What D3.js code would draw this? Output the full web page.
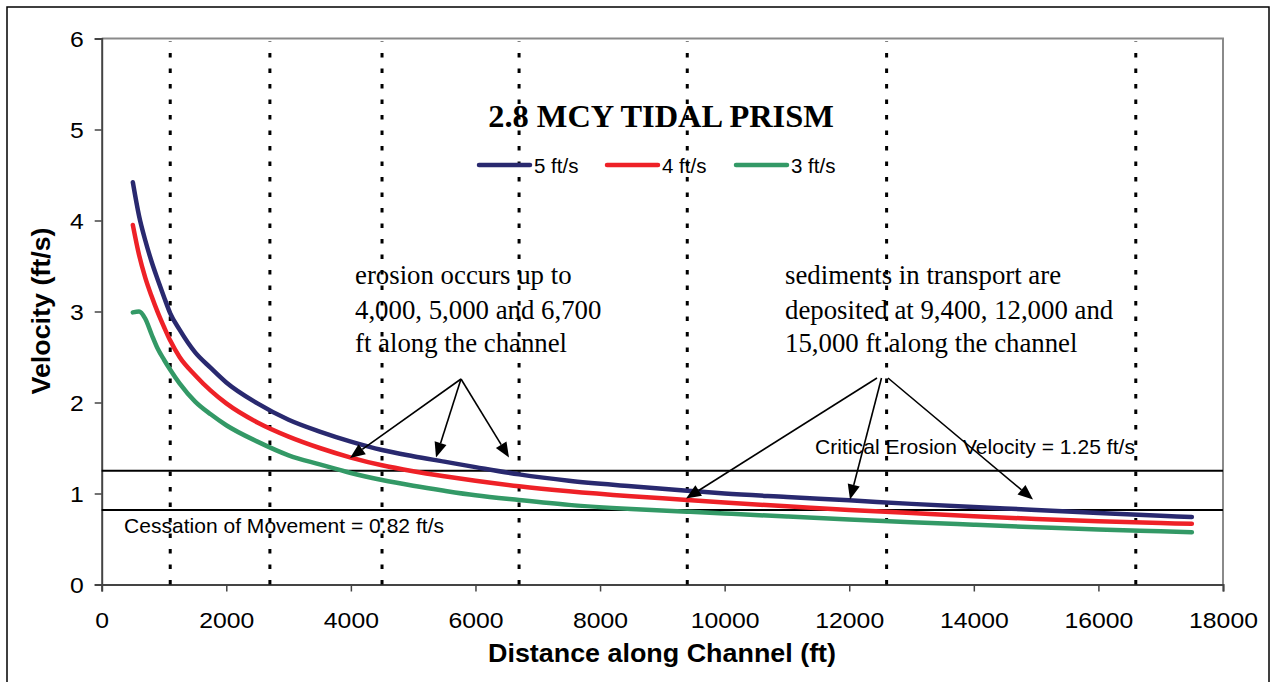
<!DOCTYPE html>
<html>
<head>
<meta charset="utf-8">
<script src="https://cdn.jsdelivr.net/npm/d3@7"></script>
<style>
  html, body { margin: 0; padding: 0; background: #fff; }
  svg { display: block; }
</style>
</head>
<body>
<svg id="chart" width="1272" height="682"></svg>
<script>
// ---- data ----
const distance = [500, 600, 700, 800, 900, 1000, 1100, 1250, 1500, 1750, 2000, 2500, 3000, 3500, 4000, 4500, 5000, 5500, 6000, 6700, 7500, 8500, 9400, 10000, 11000, 12000, 13000, 14000, 15000, 16000, 17000, 17500];
const v5 = [4.42, 4.05, 3.78, 3.55, 3.35, 3.16, 2.98, 2.80, 2.55, 2.38, 2.22, 1.99, 1.81, 1.68, 1.57, 1.478, 1.41, 1.35, 1.29, 1.21, 1.14, 1.08, 1.031, 1.00, 0.962, 0.925, 0.886, 0.851, 0.82, 0.785, 0.755, 0.742];
const v4 = [3.95, 3.62, 3.37, 3.17, 2.99, 2.83, 2.68, 2.50, 2.30, 2.13, 1.99, 1.78, 1.625, 1.50, 1.395, 1.31, 1.245, 1.19, 1.14, 1.08, 1.025, 0.97, 0.929, 0.90, 0.86, 0.82, 0.785, 0.75, 0.72, 0.695, 0.675, 0.668];
const v3 = [2.99, 3.00, 2.92, 2.75, 2.59, 2.47, 2.36, 2.21, 2.01, 1.87, 1.75, 1.57, 1.42, 1.32, 1.225, 1.148, 1.085, 1.03, 0.98, 0.928, 0.875, 0.83, 0.80, 0.78, 0.747, 0.715, 0.685, 0.657, 0.63, 0.605, 0.585, 0.575];
const seriesNames = ["5 ft/s", "4 ft/s", "3 ft/s"];
const seriesColors = ["#29296f", "#ee2127", "#339966"];
const xTicks = [0, 2000, 4000, 6000, 8000, 10000, 12000, 14000, 16000, 18000];
const yTicks = [0, 1, 2, 3, 4, 5, 6];
const markerX = [1100, 2700, 4500, 6700, 9400, 12600, 16600];
const criticalVelocity = 1.25;
const cessationVelocity = 0.82;

// ---- layout ----
const svg = d3.select("#chart");
const L = 101.7, R = 1223, T = 38.5, B = 584.5;
const x = d3.scaleLinear().domain([0, 18000]).range([L, R]);
const y = d3.scaleLinear().domain([0, 6]).range([B, T]);
const sans = "Liberation Sans, Arial, sans-serif";
const serif = "Liberation Serif, Times New Roman, serif";

function stretch(sel, k) {
  sel.each(function () {
    const l = this.getComputedTextLength();
    d3.select(this).attr("textLength", l * k).attr("lengthAdjust", "spacingAndGlyphs");
  });
}

// outer frame
svg.append("rect").attr("x", 7).attr("y", 7).attr("width", 1262).attr("height", 700)
  .attr("fill", "none").attr("stroke", "#000").attr("stroke-width", 1.5);

// plot border (top/right gray)
svg.append("path").attr("d", `M${L},${T}H${R}V${B}`)
  .attr("fill", "none").attr("stroke", "#8a8a8a").attr("stroke-width", 2);

// axes
const xAxis = d3.axisBottom(x).tickValues(xTicks).tickSize(7).tickFormat(d3.format("d"));
const gx = svg.append("g").attr("transform", `translate(0,${B})`).call(xAxis);
gx.select(".domain").attr("stroke", "#444").attr("stroke-width", 2);
gx.selectAll(".tick line").attr("stroke", "#444").attr("stroke-width", 1.5);
gx.selectAll(".tick text").attr("font-family", sans)
  .attr("font-size", 22.5).attr("fill", "#000").attr("dy", "0").attr("y", 43);
stretch(gx.selectAll(".tick text"), 1.1);

const yAxis = d3.axisLeft(y).tickValues(yTicks).tickSize(7).tickFormat(d3.format("d"));
const gy = svg.append("g").attr("transform", `translate(${L},0)`).call(yAxis);
gy.select(".domain").attr("stroke", "#444").attr("stroke-width", 2);
gy.selectAll(".tick line").attr("stroke", "#444").attr("stroke-width", 1.5);
gy.selectAll(".tick text").attr("font-family", sans)
  .attr("font-size", 22.5).attr("fill", "#000").attr("x", -18).attr("dy", "0.36em");
stretch(gy.selectAll(".tick text"), 1.1);

// dotted vertical markers
svg.append("g").selectAll("line").data(markerX).join("line")
  .attr("x1", d => x(d)).attr("x2", d => x(d))
  .attr("y1", B).attr("y2", T + 3)
  .attr("stroke", "#000").attr("stroke-width", 3).attr("stroke-dasharray", "4.5,11");

// horizontal threshold lines
[criticalVelocity, cessationVelocity].forEach(v => {
  svg.append("line").attr("x1", L).attr("x2", R).attr("y1", y(v)).attr("y2", y(v))
    .attr("stroke", "#000").attr("stroke-width", 2);
});

// series
const line = d3.line().x((d, i) => x(distance[i])).y(d => y(d)).curve(d3.curveMonotoneX);
[v5, v4, v3].forEach((vals, k) => {
  svg.append("path").datum(vals).attr("d", line)
    .attr("fill", "none").attr("stroke", seriesColors[k]).attr("stroke-width", 4.5)
    .attr("stroke-linecap", "round").attr("stroke-linejoin", "round");
});

// title
svg.append("text").attr("x", 661).attr("y", 127).attr("text-anchor", "middle")
  .attr("font-family", serif).attr("font-weight", "bold")
  .attr("font-size", 32.4).text("2.8 MCY TIDAL PRISM");

// legend
const legX = [479, 607, 736];
seriesNames.forEach((n, k) => {
  svg.append("line").attr("x1", legX[k]).attr("x2", legX[k] + 51).attr("y1", 165).attr("y2", 165)
    .attr("stroke", seriesColors[k]).attr("stroke-width", 4.5).attr("stroke-linecap", "round");
  svg.append("text").attr("x", legX[k] + 55).attr("y", 173)
    .attr("font-family", sans).attr("font-size", 20.5).text(n);
});

// annotation texts
const leftLines = ["erosion occurs up to", "4,000, 5,000 and 6,700", "ft along the channel"];
const rightLines = ["sediments in transport are", "deposited at 9,400, 12,000 and", "15,000 ft along the channel"];
const baseYs = [283.5, 318.5, 352];
leftLines.forEach((t, i) => svg.append("text").attr("x", 355).attr("y", baseYs[i])
  .attr("font-family", serif).attr("font-size", 26.8).text(t));
rightLines.forEach((t, i) => svg.append("text").attr("x", 785).attr("y", baseYs[i])
  .attr("font-family", serif).attr("font-size", 26.8).text(t));

svg.append("text").attr("x", 815).attr("y", 454)
  .attr("font-family", sans).attr("font-size", 21)
  .attr("textLength", 320).text("Critical Erosion Velocity = 1.25 ft/s");
svg.append("text").attr("x", 124).attr("y", 533)
  .attr("font-family", sans).attr("font-size", 21)
  .attr("textLength", 320).text("Cessation of Movement = 0.82 ft/s");

// arrows (line + filled triangular head)
function arrow(x0, y0, x1, y1) {
  const dx = x1 - x0, dy = y1 - y0, len = Math.hypot(dx, dy);
  const ux = dx / len, uy = dy / len, nx = -uy, ny = ux;
  const hl = 15, hw = 6.2;
  const bx = x1 - ux * hl, by = y1 - uy * hl;
  svg.append("line").attr("x1", x0).attr("y1", y0).attr("x2", bx).attr("y2", by)
    .attr("stroke", "#000").attr("stroke-width", 1.6);
  svg.append("path")
    .attr("d", `M${x1},${y1}L${bx + nx * hw},${by + ny * hw}L${bx - nx * hw},${by - ny * hw}Z`)
    .attr("fill", "#000");
}
const leftOrigin = [461, 379];
const leftTips = [[350, 458], [436, 457.5], [509, 457.5]];
leftTips.forEach(t => arrow(leftOrigin[0], leftOrigin[1], t[0], t[1]));
const rightOrigins = [[877, 378], [881.5, 378], [888, 378]];
const rightTips = [[686, 498.5], [850, 499.5], [1033, 499.5]];
rightTips.forEach((t, i) => arrow(rightOrigins[i][0], rightOrigins[i][1], t[0], t[1]));

// axis titles
svg.append("text").attr("x", 662).attr("y", 662).attr("text-anchor", "middle")
  .attr("font-family", sans).attr("font-weight", "bold")
  .attr("font-size", 25).attr("textLength", 348).attr("lengthAdjust", "spacingAndGlyphs")
  .text("Distance along Channel (ft)");
svg.append("text").attr("transform", "translate(50,311) rotate(-90)").attr("text-anchor", "middle")
  .attr("font-family", sans).attr("font-weight", "bold")
  .attr("font-size", 25).attr("textLength", 167).attr("lengthAdjust", "spacingAndGlyphs")
  .text("Velocity (ft/s)");
</script>
</body>
</html>
